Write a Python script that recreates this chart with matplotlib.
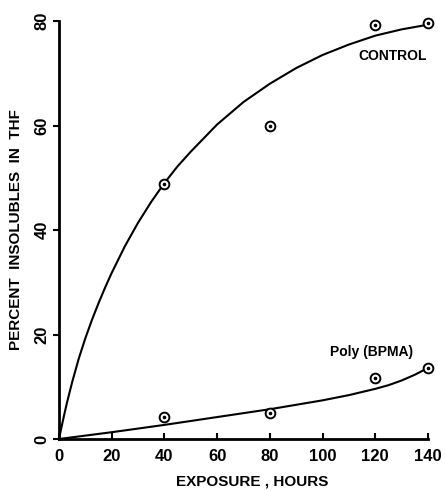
import numpy as np
import matplotlib
matplotlib.use('Agg')
import matplotlib.pyplot as plt

# measured points
hours = [40, 80, 120, 140]
control_pts = [48.8, 60.0, 79.2, 79.6]
bpma_pts = [4.3, 4.9, 11.6, 13.6]

# hand-drawn fit curves
curve_x = [0, 1, 2, 3, 5, 7.5, 10, 12.5, 15, 17.5, 20, 25, 30, 35, 40, 45, 50, 60,
           70, 80, 90, 100, 110, 120, 130, 140]
control_curve = [0, 2.4, 4.7, 6.9, 10.9, 15.4, 19.3, 22.8, 26.0, 29.0, 31.8, 36.9,
                 41.4, 45.4, 49.0, 52.2, 55.0, 60.2, 64.5, 68.0, 71.0, 73.5, 75.5,
                 77.2, 78.4, 79.3]
bpma_x = [0, 20, 40, 60, 80, 100, 110, 120, 125, 130, 135, 140]
bpma_curve = [0, 1.3, 2.7, 4.2, 5.7, 7.4, 8.4, 9.6, 10.3, 11.2, 12.3, 13.6]

x_ticks = [0, 20, 40, 60, 80, 100, 120, 140]
y_ticks = [0, 20, 40, 60, 80]

plt.rcParams['font.family'] = ['Liberation Sans', 'DejaVu Sans']
plt.rcParams['font.weight'] = 'bold'
plt.rcParams['axes.labelweight'] = 'bold'

fig = plt.figure(figsize=(4.45, 4.91), dpi=100)
ax = fig.add_axes([0.1326, 0.1059, 0.8292, 0.8513])

ax.plot(curve_x, control_curve, color='black', lw=1.5, clip_on=False)
ax.plot(bpma_x, bpma_curve, color='black', lw=1.5, clip_on=False)

for pts in (control_pts, bpma_pts):
    ax.plot(hours, pts, 'o', ms=7, mfc='white', mec='black', mew=1.4, clip_on=False, zorder=3)
    ax.plot(hours, pts, 'o', ms=1.6, color='black', clip_on=False, zorder=4)

ax.text(139.6, 73.3, 'CONTROL', ha='right', va='center', fontsize=10)
ax.text(118.4, 16.7, 'Poly (BPMA)', ha='center', va='center', fontsize=10)

ax.set_xlim(0, 140)
ax.set_ylim(0, 80)
ax.set_xticks(x_ticks)
ax.set_yticks(y_ticks)
ax.set_xticklabels([str(t) for t in x_ticks], fontsize=12)
ax.set_yticklabels([str(t) for t in y_ticks], fontsize=12, rotation=90, va='center')

for s in ('top', 'right'):
    ax.spines[s].set_visible(False)
for s in ('left', 'bottom'):
    ax.spines[s].set_linewidth(2)

ax.tick_params(axis='x', direction='in', length=4, width=1.5, pad=7)
ax.tick_params(axis='y', direction='out', length=4, width=1.5, pad=3)

ax.set_xlabel('EXPOSURE , HOURS', fontsize=11)
ax.xaxis.set_label_coords(0.523, -0.086)
ax.set_ylabel('PERCENT  INSOLUBLES  IN  THF', fontsize=11, labelpad=8)

fig.savefig('out.png', dpi=100)
